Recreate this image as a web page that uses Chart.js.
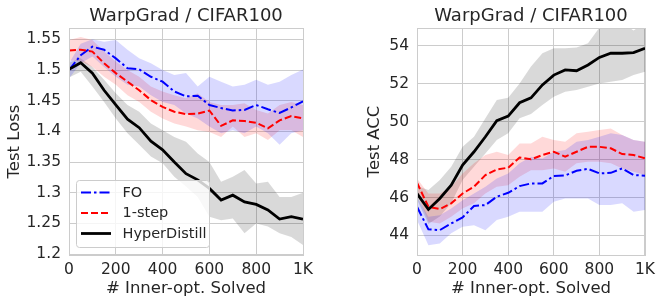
<!DOCTYPE html>
<html>
<head>
<meta charset="utf-8">
<script src="https://cdn.jsdelivr.net/npm/chart.js@4/dist/chart.umd.min.js"></script>
<style>
  html, body { margin: 0; padding: 0; background: #ffffff; }
  #wrap { position: relative; width: 661px; height: 297px; overflow: hidden; }
  canvas { position: absolute; top: 0; }
</style>
</head>
<body>
<div id="wrap">
  <canvas id="c1" width="340" height="297" style="left:0px"></canvas>
  <canvas id="c2" width="321" height="297" style="left:340px"></canvas>
</div>
<script>
// ---------- data ----------
const steps = [0,50,100,150,200,250,300,350,400,450,500,550,600,650,700,750,800,850,900,950,1000];
const xTickValues = [0,200,400,600,800,1000];
const xTickLabels = ['0','200','400','600','800','1K'];
const seriesNames = ['FO','1-step','HyperDistill'];
const chartTitle = 'WarpGrad / CIFAR100';
const xTitle = '# Inner-opt. Solved';

// Test loss
const lossFO    = [1.500,1.524,1.538,1.533,1.519,1.503,1.501,1.489,1.481,1.465,1.457,1.458,1.443,1.438,1.434,1.435,1.443,1.436,1.430,1.439,1.449];
const lossFOLo  = [1.486,1.511,1.522,1.505,1.489,1.476,1.473,1.459,1.448,1.443,1.429,1.421,1.408,1.397,1.402,1.397,1.408,1.397,1.378,1.397,1.402];
const lossFOHi  = [1.511,1.543,1.550,1.546,1.549,1.533,1.519,1.511,1.500,1.492,1.495,1.473,1.489,1.481,1.473,1.476,1.484,1.476,1.481,1.492,1.501];
const loss1     = [1.532,1.533,1.530,1.511,1.495,1.481,1.467,1.451,1.440,1.432,1.428,1.429,1.434,1.409,1.418,1.417,1.414,1.405,1.418,1.425,1.421];
const loss1Lo   = [1.516,1.514,1.505,1.489,1.476,1.459,1.448,1.432,1.421,1.413,1.408,1.402,1.399,1.391,1.408,1.391,1.397,1.386,1.402,1.402,1.391];
const loss1Hi   = [1.549,1.554,1.549,1.530,1.514,1.500,1.489,1.473,1.465,1.459,1.454,1.462,1.448,1.443,1.443,1.446,1.435,1.429,1.443,1.448,1.443];
const lossHD    = [1.501,1.512,1.495,1.467,1.443,1.420,1.406,1.384,1.370,1.350,1.331,1.321,1.307,1.288,1.296,1.285,1.281,1.272,1.257,1.261,1.257];
const lossHDLo  = [1.488,1.497,1.473,1.448,1.421,1.397,1.378,1.359,1.348,1.326,1.310,1.293,1.261,1.255,1.258,1.234,1.250,1.245,1.234,1.228,1.215];
const lossHDHi  = [1.512,1.519,1.505,1.484,1.462,1.443,1.432,1.413,1.402,1.391,1.383,1.364,1.350,1.318,1.326,1.337,1.315,1.318,1.293,1.293,1.300];
const lossTickValues = [1.2,1.25,1.3,1.35,1.4,1.45,1.5,1.55];
const lossTickLabels = ['1.2','1.25','1.3','1.35','1.4','1.45','1.5','1.55'];

// Test accuracy
const accFO    = [45.51,44.32,44.28,44.63,44.95,45.55,45.60,46.04,46.25,46.60,46.74,46.74,47.13,47.16,47.41,47.51,47.27,47.30,47.53,47.18,47.15];
const accFOLo  = [44.81,43.49,43.58,44.11,44.46,44.54,44.28,44.81,44.98,45.25,45.25,45.25,45.78,45.95,45.95,45.95,45.60,45.60,45.69,45.25,45.34];
const accFOHi  = [46.04,44.98,45.07,45.42,45.86,46.21,46.57,47.00,47.27,47.80,48.15,48.06,48.41,48.50,48.94,49.03,49.20,49.38,49.29,49.03,48.94];
const acc1     = [46.78,45.51,45.39,45.69,46.21,46.57,47.18,47.48,47.57,48.11,48.01,48.24,48.41,48.15,48.41,48.67,48.67,48.59,48.29,48.24,48.06];
const acc1Lo   = [46.21,44.72,44.63,44.98,45.42,45.69,46.21,46.57,46.65,47.09,47.44,47.44,47.53,47.36,47.80,47.88,47.88,47.80,47.53,47.36,47.18];
const acc1Hi   = [47.00,46.21,46.21,46.57,47.27,47.80,48.24,48.41,48.24,48.85,48.85,49.20,49.03,48.94,49.38,49.47,49.55,49.64,49.29,49.03,48.94];
const accHD    = [46.21,45.37,45.95,46.65,47.71,48.41,49.20,50.05,50.29,50.99,51.25,51.93,52.45,52.72,52.68,52.98,53.38,53.60,53.60,53.63,53.86];
const accHDLo  = [45.90,44.60,45.00,45.69,46.92,47.62,48.32,49.03,49.38,50.17,50.40,50.87,51.31,51.57,51.66,51.84,52.01,52.10,52.19,52.45,52.63];
const accHDHi  = [46.60,46.39,46.92,47.62,48.67,49.20,50.17,51.14,51.25,52.00,52.90,53.60,53.86,53.86,53.90,54.12,54.95,55.30,55.20,54.80,55.20];
const accTickValues = [44,46,48,50,52,54];
const accTickLabels = ['44','46','48','50','52','54'];

// ---------- styling ----------
const FONT = 'DejaVu Sans';
const TEXT = '#262626';
const GRID = '#cccccc';
const styles = [
  { color: '#0000ff', band: 'rgba(0,0,255,0.15)', width: 2,   dash: [10,3,2.5,3] },
  { color: '#ff0000', band: 'rgba(255,0,0,0.15)', width: 2,   dash: [7,3] },
  { color: '#000000', band: 'rgba(0,0,0,0.15)',   width: 2.8, dash: [] }
];

function pts(arr) { return steps.map((x, i) => ({ x: x, y: arr[i] })); }

function buildDatasets(series) {
  const ds = [];
  series.forEach((s, k) => {
    ds.push({ data: pts(s.lo), borderWidth: 0, pointRadius: 0, fill: false, order: 2, isBand: true });
    ds.push({ data: pts(s.hi), borderWidth: 0, pointRadius: 0, fill: '-1', backgroundColor: styles[k].band, order: 2, isBand: true });
  });
  series.forEach((s, k) => {
    ds.push({ label: seriesNames[k], data: pts(s.mid), borderColor: styles[k].color, borderWidth: styles[k].width,
      borderDash: styles[k].dash, pointRadius: 0, fill: false, order: 1 - k * 0.1 });
  });
  return ds;
}

const framePlugin = {
  id: 'frame',
  afterDatasetsDraw(chart) {
    const a = chart.chartArea, ctx = chart.ctx;
    ctx.save();
    ctx.strokeStyle = GRID; ctx.lineWidth = 1;
    ctx.strokeRect(Math.round(a.left) + 0.5, Math.round(a.top) + 0.5, Math.round(a.right - a.left) - 1 + 1, Math.round(a.bottom - a.top));
    ctx.restore();
  }
};

const titlePlugin = {
  id: 'ptitle',
  afterDraw(chart) {
    const a = chart.chartArea, ctx = chart.ctx;
    ctx.save();
    ctx.font = '18px "' + FONT + '"';
    ctx.fillStyle = TEXT; ctx.textAlign = 'center'; ctx.textBaseline = 'alphabetic';
    ctx.fillText(chartTitle, (a.left + a.right) / 2, 21);
    ctx.restore();
  }
};

const legendPlugin = {
  id: 'plegend',
  afterDatasetsDraw(chart, args, opts) {
    if (!opts || !opts.show) return;
    const a = chart.chartArea, ctx = chart.ctx;
    const x0 = a.left + 7, y0 = a.bottom - 75, w = 133, h = 67;
    ctx.save();
    ctx.beginPath();
    ctx.roundRect(x0 + 0.5, y0 + 0.5, w, h, 3);
    ctx.fillStyle = 'rgba(255,255,255,0.8)';
    ctx.fill();
    ctx.strokeStyle = GRID; ctx.lineWidth = 1; ctx.stroke();
    const lineDs = chart.data.datasets.filter(d => !d.isBand);
    lineDs.forEach((d, i) => {
      const cy = y0 + 12.5 + i * 20.5;
      ctx.beginPath();
      ctx.setLineDash(d.borderDash || []);
      ctx.strokeStyle = d.borderColor; ctx.lineWidth = d.borderWidth;
      ctx.moveTo(x0 + 5, cy); ctx.lineTo(x0 + 35, cy); ctx.stroke();
      ctx.setLineDash([]);
      ctx.font = '14.5px "' + FONT + '"';
      ctx.fillStyle = TEXT; ctx.textAlign = 'left'; ctx.textBaseline = 'middle';
      ctx.fillText(d.label, x0 + 46.5, cy + 0.5);
    });
    ctx.restore();
  }
};

function makeChart(id, series, yMin, yMax, yVals, yLabels, yTitle, yWidth, yTitlePad, padRight, showLegend) {
  return new Chart(document.getElementById(id), {
    type: 'line',
    data: { datasets: buildDatasets(series) },
    plugins: [framePlugin, legendPlugin, titlePlugin],
    options: {
      responsive: false, animation: false, devicePixelRatio: 1,
      layout: { padding: { top: 28, right: padRight, left: 0, bottom: 0 } },
      plugins: {
        legend: { display: false }, tooltip: { enabled: false }, title: { display: false },
        filler: { drawTime: 'beforeDatasetsDraw', propagate: false },
        plegend: { show: showLegend }
      },
      scales: {
        x: {
          type: 'linear', min: 0, max: 1000,
          afterBuildTicks: s => { s.ticks = xTickValues.map(v => ({ value: v })); },
          afterFit: s => { s.height = 42; },
          grid: { color: GRID, lineWidth: 1, drawTicks: false },
          border: { color: GRID, width: 1 },
          ticks: { padding: 6, color: TEXT, font: { family: FONT, size: 15.5 }, maxRotation: 0,
                   callback: v => xTickLabels[xTickValues.indexOf(v)] },
          title: { display: true, text: xTitle, color: TEXT, font: { family: FONT, size: 16.5, lineHeight: 1 }, padding: { top: 0, bottom: 0 } }
        },
        y: {
          type: 'linear', min: yMin, max: yMax,
          afterBuildTicks: s => { s.ticks = yVals.map(v => ({ value: v })); },
          afterFit: s => { s.width = yWidth; },
          grid: { color: GRID, lineWidth: 1, drawTicks: false },
          border: { color: GRID, width: 1 },
          ticks: { padding: 8, color: TEXT, font: { family: FONT, size: 15.5 },
                   callback: (v) => { const i = yVals.findIndex(t => Math.abs(t - v) < 1e-9); return i >= 0 ? yLabels[i] : ''; } },
          title: { display: true, text: yTitle, color: TEXT, font: { family: FONT, size: 16.5, lineHeight: 1 }, padding: { top: yTitlePad, bottom: 0 } }
        }
      }
    }
  });
}

makeChart('c1', [
  { mid: lossFO, lo: lossFOLo, hi: lossFOHi },
  { mid: loss1,  lo: loss1Lo,  hi: loss1Hi },
  { mid: lossHD, lo: lossHDLo, hi: lossHDHi }
], 1.1985, 1.5685, lossTickValues, lossTickLabels, 'Test Loss', 69, 6.75, 37, true);

makeChart('c2', [
  { mid: accFO, lo: accFOLo, hi: accFOHi },
  { mid: acc1,  lo: acc1Lo,  hi: acc1Hi },
  { mid: accHD, lo: accHDLo, hi: accHDHi }
], 42.97, 54.93, accTickValues, accTickLabels, 'Test ACC', 77, 26.75, 11, false);
</script>
</body>
</html>
